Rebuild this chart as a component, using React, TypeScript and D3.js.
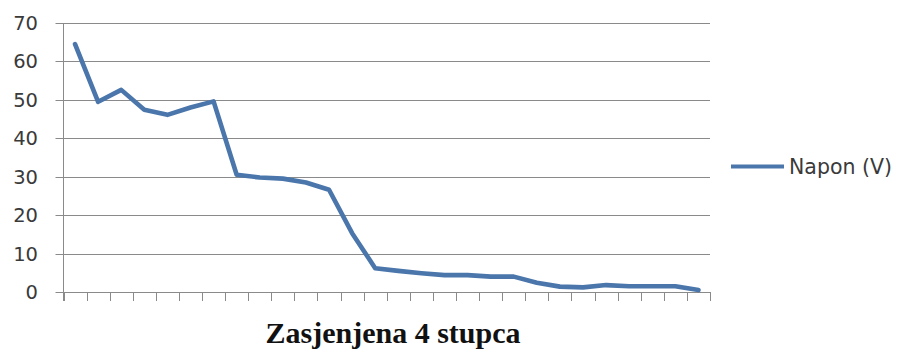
import React from "react";
import * as d3 from "d3";

const categories: number[] = Array.from({ length: 28 }, (_, i) => i + 1);
const napon: number[] = [
  64.5, 49.5, 52.6, 47.4, 46.1, 48.0, 49.6, 30.5, 29.8, 29.5, 28.5, 26.6, 15.3, 6.2,
  5.5, 4.9, 4.4, 4.4, 4.0, 4.0, 2.4, 1.4, 1.2, 1.8, 1.5, 1.5, 1.5, 0.5,
];
const yTicks: number[] = [0, 10, 20, 30, 40, 50, 60, 70];
const seriesName = "Napon (V)";
const title = "Zasjenjena 4 stupca";

const W = 900;
const H = 351;
const left = 63.5;
const right = 710;
const top = 23;
const bottom = 292;
const lineColor = "#4a76ab";
const gridColor = "#8a8a8a";

export default function App() {
  const x = d3.scaleBand<number>().domain(categories).range([left, right]).paddingInner(0).paddingOuter(0);
  const y = d3.scaleLinear().domain([0, 70]).range([bottom, top]);
  const line = d3
    .line<number>()
    .x((_, i) => (x(categories[i]) as number) + x.bandwidth() / 2)
    .y((d) => y(d));
  const boundaries = categories.map((c) => x(c) as number).concat([right]);

  return (
    <svg
      width={W}
      height={H}
      style={{ position: "absolute", left: 0, top: 0, background: "#fff" }}
    >
      {yTicks.map((t) => (
        <g key={t}>
          <line
            x1={left - 8}
            x2={right}
            y1={Math.round(y(t)) + 0.5}
            y2={Math.round(y(t)) + 0.5}
            stroke={gridColor}
            strokeWidth={1}
          />
          <text
            x={38}
            y={y(t)}
            dy="0.36em"
            textAnchor="end"
            fontFamily="'DejaVu Sans', sans-serif"
            fontSize={19.5}
            fill="#3a3a3a"
          >
            {t}
          </text>
        </g>
      ))}
      <line x1={left} x2={left} y1={top} y2={bottom + 9} stroke={gridColor} strokeWidth={1} />
      {boundaries.map((b, i) => (
        <line
          key={i}
          x1={Math.round(b) + 0.5}
          x2={Math.round(b) + 0.5}
          y1={bottom}
          y2={bottom + 9}
          stroke={gridColor}
          strokeWidth={1}
        />
      ))}
      <path
        d={line(napon) || ""}
        fill="none"
        stroke={lineColor}
        strokeWidth={4.6}
        strokeLinejoin="round"
        strokeLinecap="round"
      />
      <line x1={731} x2={784} y1={166.5} y2={166.5} stroke={lineColor} strokeWidth={4} />
      <text
        x={789}
        y={167}
        dy="0.36em"
        fontFamily="'DejaVu Sans', sans-serif"
        fontSize={20.5}
        fill="#3a3a3a"
      >
        {seriesName}
      </text>
      <text
        x={393}
        y={343}
        textAnchor="middle"
        fontFamily="'Liberation Serif', 'Times New Roman', serif"
        fontWeight="bold"
        fontSize={30}
        fill="#111"
      >
        {title}
      </text>
    </svg>
  );
}
